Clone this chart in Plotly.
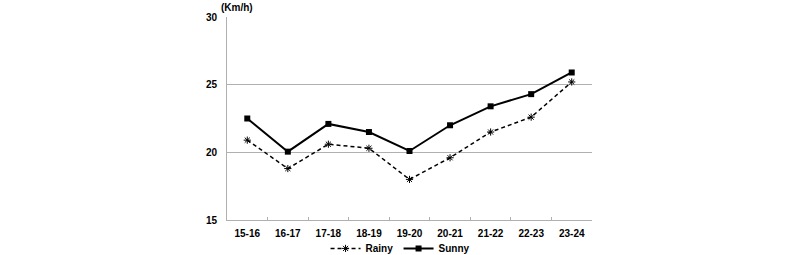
import plotly.graph_objects as go

categories = ["15-16", "16-17", "17-18", "18-19", "19-20", "20-21", "21-22", "22-23", "23-24"]
rainy = [20.9, 18.8, 20.6, 20.3, 18.0, 19.6, 21.5, 22.6, 25.2]
sunny = [22.5, 20.05, 22.1, 21.5, 20.1, 22.0, 23.4, 24.3, 25.9]
y_ticks = [15, 20, 25, 30]

font = dict(family="Arial, Liberation Sans, sans-serif", size=10, color="#000")

fig = go.Figure()
fig.add_trace(go.Scatter(
    x=categories, y=rainy, name="<b>Rainy</b>", mode="lines+markers",
    line=dict(color="black", width=1.5, dash="4px,3px"),
    marker=dict(symbol="asterisk-open", size=6, line=dict(color="#333", width=1)),
))
fig.add_trace(go.Scatter(
    x=categories, y=sunny, name="<b>Sunny</b>", mode="lines+markers",
    line=dict(color="black", width=2),
    marker=dict(symbol="square", size=6, color="black"),
))

fig.update_layout(
    width=800, height=255,
    margin=dict(l=227, r=208, t=17, b=35, autoexpand=False),
    paper_bgcolor="white", plot_bgcolor="white",
    font=font,
    showlegend=True,
    legend=dict(orientation="h", x=0.47, xanchor="center", y=-0.14, yanchor="middle",
                font=dict(size=10), itemwidth=30, entrywidth=28, entrywidthmode="pixels",
                tracegroupgap=0, bgcolor="rgba(0,0,0,0)"),
    xaxis=dict(
        type="category", showgrid=False, showline=True, linecolor="#b0b0b0", linewidth=1,
        ticks="inside", tickson="boundaries", ticklen=3, tickcolor="#b0b0b0",
        tickvals=categories, ticktext=["<b>%s</b>" % c for c in categories],
        tickfont=dict(size=10), range=[-0.5, 8.5], automargin=False, ticklabelstandoff=4,
    ),
    yaxis=dict(
        range=[15, 30], tickvals=y_ticks, ticktext=["<b>%d</b>" % v for v in y_ticks],
        showgrid=True, gridcolor="#b0b0b0", gridwidth=1,
        showline=True, linecolor="#b0b0b0", linewidth=1,
        ticks="", ticklabelstandoff=7, tickfont=dict(size=10), zeroline=False,
        automargin=False,
    ),
    annotations=[dict(
        text="<b>(Km/h)</b>", xref="paper", yref="paper", x=-0.022, y=1.0,
        xanchor="left", yanchor="bottom", showarrow=False, font=dict(size=10), yshift=2,
    )],
)

fig.write_html("out.html")
